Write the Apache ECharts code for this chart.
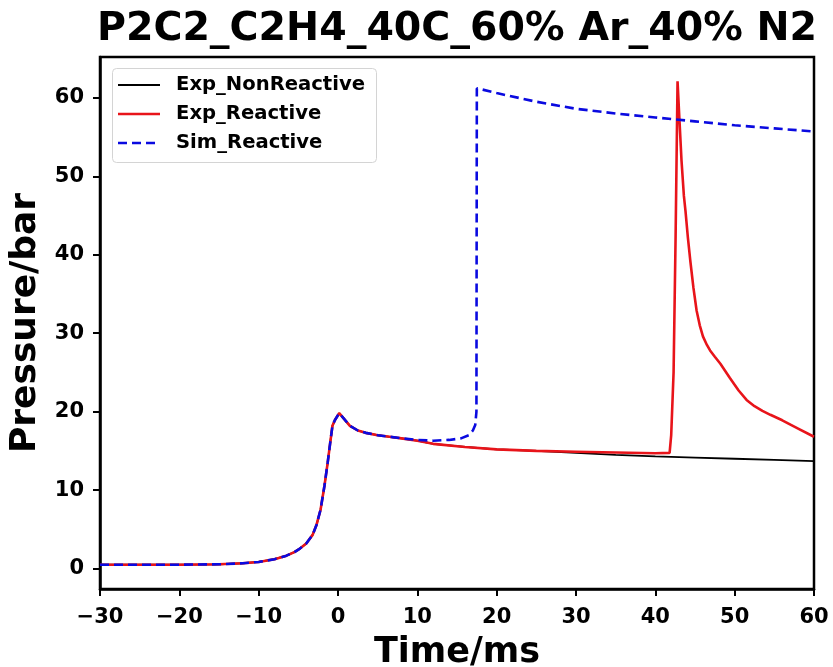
<!DOCTYPE html>
<html>
<head>
<meta charset="utf-8">
<script src="https://cdn.jsdelivr.net/npm/echarts@6/dist/echarts.min.js"></script>
<style>
  html, body { margin: 0; padding: 0; background: #fff; }
  #chart { width: 833px; height: 667px; }
</style>
</head>
<body>
<div id="chart"></div>
<script>
// Time (ms) and pressure (bar) traces
const tExpNonReactive = [-30, -20, -15, -12, -10, -8, -6.5, -5.5, -4.8, -4, -3.2, -2.7, -2.2, -1.7, -1.3, -1.0, -0.7, -0.4, 0.15, 0.5, 1.0, 1.5, 2.5, 3.5, 5, 6.5, 8, 10, 12, 16, 20, 25, 30, 35, 40, 45, 50, 55, 60];
const pExpNonReactive = [0.5, 0.5, 0.55, 0.68, 0.85, 1.2, 1.65, 2.1, 2.55, 3.2, 4.3, 5.6, 7.5, 10.6, 13.5, 15.9, 18.2, 18.9, 19.8, 19.4, 18.8, 18.2, 17.6, 17.3, 17.0, 16.8, 16.6, 16.3, 15.9, 15.5, 15.2, 15.0, 14.75, 14.5, 14.3, 14.15, 14.0, 13.85, 13.7];

const tExpReactive = [-30, -20, -15, -12, -10, -8, -6.5, -5.5, -4.8, -4, -3.2, -2.7, -2.2, -1.7, -1.3, -1.0, -0.7, -0.4, 0.15, 0.5, 1.0, 1.5, 2.5, 3.5, 5, 6.5, 8, 10, 12, 16, 20, 25, 30, 35, 40, 41.8, 42.0, 42.3, 42.55, 42.8, 43.0, 43.3, 43.6, 43.8, 44.1, 44.4, 44.8, 45.2, 45.6, 46.0, 46.5, 46.9, 47.5, 48.2, 49.4, 50.5, 51.5, 52.5, 53.5, 54.5, 56, 58, 60];
const pExpReactive = [0.5, 0.5, 0.55, 0.68, 0.85, 1.2, 1.65, 2.1, 2.55, 3.2, 4.3, 5.6, 7.5, 10.6, 13.5, 15.9, 18.2, 18.9, 19.8, 19.4, 18.8, 18.2, 17.6, 17.3, 17.0, 16.8, 16.6, 16.3, 15.9, 15.5, 15.2, 15.0, 14.9, 14.8, 14.7, 14.75, 17.0, 25.0, 42.0, 62.1, 58.0, 52.0, 47.5, 45.6, 42.2, 39.3, 35.8, 32.9, 31.0, 29.6, 28.5, 27.8, 27.0, 26.1, 24.3, 22.7, 21.5, 20.7, 20.1, 19.6, 18.9, 17.85, 16.8];

const tSimReactive = [-30, -20, -15, -12, -10, -8, -6.5, -5.5, -4.8, -4, -3.2, -2.7, -2.2, -1.7, -1.3, -1.0, -0.7, -0.4, 0.15, 0.5, 1.0, 1.5, 2.5, 3.5, 5, 6.5, 8, 10, 12, 14, 15.5, 16.5, 17.0, 17.3, 17.45, 17.5, 18, 20, 25, 30, 35, 40, 45, 50, 55, 60];
const pSimReactive = [0.5, 0.5, 0.55, 0.68, 0.85, 1.2, 1.65, 2.1, 2.55, 3.2, 4.3, 5.6, 7.5, 10.6, 13.5, 15.9, 18.2, 18.9, 19.8, 19.4, 18.8, 18.2, 17.6, 17.3, 17.0, 16.8, 16.6, 16.4, 16.3, 16.4, 16.6, 17.0, 17.6, 18.3, 20.0, 61.2, 61.1, 60.6, 59.5, 58.6, 58.0, 57.5, 57.0, 56.5, 56.1, 55.7];

const seriesNames = ['Exp_NonReactive', 'Exp_Reactive', 'Sim_Reactive'];
const yTicks = [0, 10, 20, 30, 40, 50, 60];

const pairs = (ts, ps) => ts.map((t, i) => [t, ps[i]]);
const FONT = 'DejaVu Sans';
const minus = v => String(v).replace('-', '\u2212');

const styles = [
  { color: '#000000', width: 1.8, type: 'solid' },
  { color: '#e8141a', width: 2.6, type: 'solid' },
  { color: '#0a0ae0', width: 2.6, type: [9, 5] }
];

// Boxed legend in the upper-left corner of the plot
const legendX = 112, legendY = 68, legendW = 264, legendH = 94;
const rowY = [85, 114, 143];
const legendGraphics = [{
  type: 'rect', z: 100,
  shape: { x: legendX + 0.5, y: legendY + 0.5, width: legendW, height: legendH, r: 4 },
  style: { fill: 'rgba(255,255,255,0.9)', stroke: '#d4d4d4', lineWidth: 1 }
}];
seriesNames.forEach((name, i) => {
  legendGraphics.push({
    type: 'line', z: 101,
    shape: { x1: 118, y1: rowY[i], x2: 160, y2: rowY[i] },
    style: { stroke: styles[i].color, lineWidth: styles[i].width, lineDash: Array.isArray(styles[i].type) ? styles[i].type : null }
  });
  legendGraphics.push({
    type: 'text', z: 101, x: 176, y: rowY[i],
    style: { text: name, fontFamily: FONT, fontWeight: 'bold', fontSize: 19.6, fill: '#000', align: 'left', verticalAlign: 'middle' }
  });
});

const chart = echarts.init(document.getElementById('chart'), null, { renderer: 'canvas' });
chart.setOption({
  animation: false,
  backgroundColor: '#fff',
  graphic: [{
    type: 'text',
    x: 457, y: 30,
    style: {
      text: 'P2C2_C2H4_40C_60% Ar_40% N2',
      fontFamily: FONT, fontWeight: 'bold', fontSize: 39.5,
      fill: '#000', align: 'center', verticalAlign: 'middle'
    }
  }].concat(legendGraphics),
  grid: {
    left: 100, right: 19, top: 57, bottom: 78,
    outerBoundsMode: 'none', containLabel: false,
    show: true, borderColor: '#000', borderWidth: 2.5, backgroundColor: 'transparent'
  },
  xAxis: {
    type: 'value', min: -30, max: 60, interval: 10,
    name: 'Time/ms', nameLocation: 'middle', nameGap: 46,
    nameTextStyle: { fontFamily: FONT, fontWeight: 'bold', fontSize: 35, color: '#000' },
    axisLine: { show: true, onZero: false, lineStyle: { color: '#000', width: 2.5 } },
    axisTick: { show: true, length: 7, lineStyle: { color: '#000', width: 2 } },
    axisLabel: { fontFamily: FONT, fontWeight: 'bold', fontSize: 21, color: '#000', margin: 18, formatter: minus },
    splitLine: { show: false }
  },
  yAxis: {
    type: 'value', min: -2.6, max: 65.2,
    name: 'Pressure/bar', nameLocation: 'middle', nameGap: 53,
    nameTextStyle: { fontFamily: FONT, fontWeight: 'bold', fontSize: 36, color: '#000' },
    axisLine: { show: true, onZero: false, lineStyle: { color: '#000', width: 2.5 } },
    axisTick: { show: true, length: 7, lineStyle: { color: '#000', width: 2 }, customValues: yTicks },
    axisLabel: { fontFamily: FONT, fontWeight: 'bold', fontSize: 21, color: '#000', margin: 16, customValues: yTicks, formatter: minus },
    splitLine: { show: false }
  },
  series: [
    [tExpNonReactive, pExpNonReactive],
    [tExpReactive, pExpReactive],
    [tSimReactive, pSimReactive]
  ].map(([ts, ps], i) => ({
    name: seriesNames[i], type: 'line', showSymbol: false, symbol: 'none',
    data: pairs(ts, ps),
    lineStyle: styles[i], itemStyle: { color: styles[i].color }
  }))
});
</script>
</body>
</html>
